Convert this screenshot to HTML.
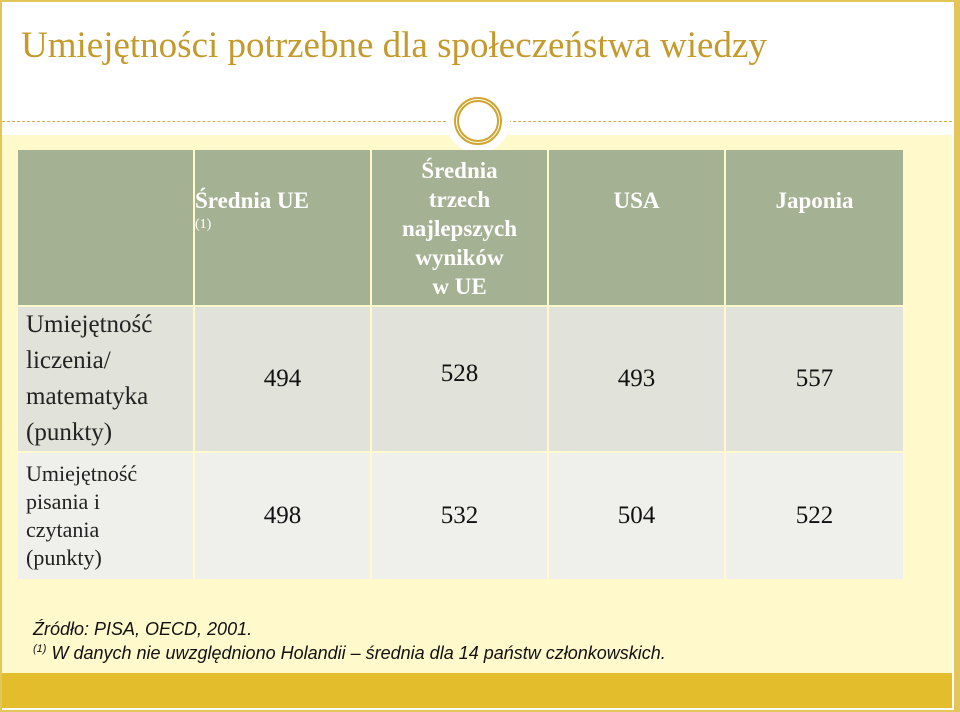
<!DOCTYPE html>
<html><head><meta charset="utf-8"><style>
*{margin:0;padding:0;box-sizing:border-box}
body{width:960px;height:712px;position:relative;background:#fff;overflow:hidden;font-family:"Liberation Serif",serif}
.abs{position:absolute}
.cell{position:absolute;display:flex;align-items:center;justify-content:center;text-align:center}
.hd{background:#a5b193;color:#fff;font-weight:bold;font-size:23px;line-height:29px;align-items:flex-start;padding-top:36px}
.r1{background:#e1e2da}
.r2{background:#eff0eb}
.val{font-size:25px;color:#111}
.lab{justify-content:flex-start;text-align:left;color:#222;font-size:24px;padding-left:8px}
</style></head><body>
<div class="abs" style="left:0;top:0;width:960px;height:712px;border:2px solid #e2c65a;border-right-width:6px"></div>
<div class="abs" style="left:2px;top:135px;width:950px;height:538px;background:#fff9cb"></div>
<div class="abs" style="left:2px;top:673px;width:950px;height:35px;background:#e3bd2b"></div>
<div class="abs" style="left:2px;top:121px;width:950px;border-top:1px dashed #d1ac4a"></div>
<div class="abs" style="left:446px;top:89px;width:64px;height:64px;border-radius:50%;background:#fff"></div>
<div class="abs" style="left:454px;top:97px;width:48px;height:48px;border-radius:50%;border:5px double #cfa52e"></div>
<div class="abs" style="left:21px;top:24px;font-size:37px;color:#c49a2c;white-space:nowrap">Umiejętności potrzebne dla społeczeństwa wiedzy</div>

<div>
<div class="cell hd" style="left:18px;top:150px;width:175px;height:155px"></div>
<div class="cell hd" style="left:195px;top:150px;width:175px;height:155px;padding-top:36px;flex-direction:column;justify-content:flex-start"><span>Średnia UE</span><span style="font-size:14px;font-weight:normal;line-height:20px">(1)</span></div>
<div class="cell hd" style="left:372px;top:150px;width:175px;height:155px;padding-top:6px">Średnia<br>trzech<br>najlepszych<br>wyników<br>w UE</div>
<div class="cell hd" style="left:549px;top:150px;width:175px;height:155px">USA</div>
<div class="cell hd" style="left:726px;top:150px;width:177px;height:155px">Japonia</div>

<div class="cell r1 lab" style="left:18px;top:307px;width:175px;height:144px;font-size:25px;line-height:36px">Umiejętność<br>liczenia/<br>matematyka<br>(punkty)</div>
<div class="cell r1 val" style="left:195px;top:307px;width:175px;height:144px">494</div>
<div class="cell r1 val" style="left:372px;top:307px;width:175px;height:144px;padding-bottom:10px">528</div>
<div class="cell r1 val" style="left:549px;top:307px;width:175px;height:144px">493</div>
<div class="cell r1 val" style="left:726px;top:307px;width:177px;height:144px">557</div>

<div class="cell r2 lab" style="left:18px;top:453px;width:175px;height:126px;font-size:22px;line-height:28px">Umiejętność<br>pisania i<br>czytania<br>(punkty)</div>
<div class="cell r2 val" style="left:195px;top:453px;width:175px;height:126px">498</div>
<div class="cell r2 val" style="left:372px;top:453px;width:175px;height:126px">532</div>
<div class="cell r2 val" style="left:549px;top:453px;width:175px;height:126px">504</div>
<div class="cell r2 val" style="left:726px;top:453px;width:177px;height:126px">522</div>
</div>

<div class="abs" style="left:33px;top:619px;font-family:'Liberation Sans',sans-serif;font-style:italic;font-size:18px;color:#111;white-space:nowrap">Źródło: PISA, OECD, 2001.</div>
<div class="abs" style="left:33px;top:643px;font-family:'Liberation Sans',sans-serif;font-style:italic;font-size:18px;color:#111;white-space:nowrap"><sup style="font-size:11px">(1)</sup> W danych nie uwzględniono Holandii – średnia dla 14 państw członkowskich.</div>
</body></html>
